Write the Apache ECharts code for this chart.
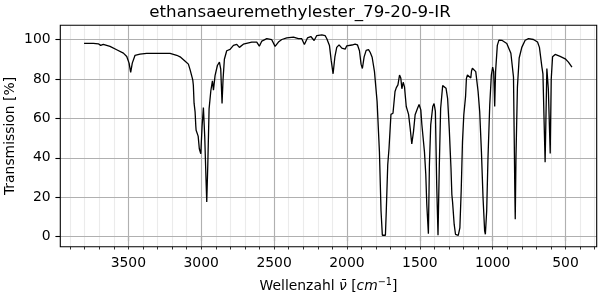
<!DOCTYPE html>
<html>
<head>
<meta charset="utf-8">
<script src="https://cdn.jsdelivr.net/npm/echarts@6/dist/echarts.min.js"></script>
<style>html,body{margin:0;padding:0;background:#fff}#c{width:600px;height:300px}</style>
</head>
<body>
<div id="c"></div>
<script>
// Wavenumbers (cm^-1) and transmission (%)
const wavenumbers = [3804,3740,3706,3690,3672,3626,3580,3534,3511,3495,3484,3473,3454,3420,3374,3282,3214,3168,3145,3133,3110,3088,3076,3065,3058,3054,3049,3042,3037,3035,3028,3021,3013,3003,2994,2985,2976,2967,2962,2955,2946,2934,2923,2916,2905,2889,2875,2866,2857,2850,2841,2825,2802,2779,2756,2738,2730,2711,2653,2619,2601,2584,2550,2516,2493,2470,2447,2413,2367,2333,2310,2292,2271,2248,2225,2207,2172,2150,2138,2120,2108,2095,2083,2070,2054,2035,2024,2012,2001,1966,1944,1928,1914,1903,1894,1882,1868,1852,1840,1827,1811,1793,1777,1766,1757,1736,1730,1720,1711,1698,1684,1670,1661,1650,1639,1630,1623,1614,1605,1593,1577,1566,1555,1543,1532,1516,1505,1493,1486,1477,1468,1459,1452,1441,1434,1425,1411,1402,1393,1384,1375,1366,1357,1343,1332,1320,1309,1298,1286,1280,1277,1275,1264,1255,1236,1225,1216,1207,1198,1186,1180,1173,1160,1150,1145,1139,1127,1116,1100,1089,1077,1066,1055,1050,1041,1032,1020,1009,1000,993,986,980,968,957,937,903,875,857,852,848,845,840,830,818,800,777,754,720,692,679,662,655,640,628,618,605,598,589,571,537,502,480,456];
const transmission = [98,98,97.8,97,97.5,96.5,94.8,93.1,91.4,88,83.3,88,92,92.6,93,93,93,92,91.2,90.4,89,87.5,84.6,83.6,79.5,76.8,67.7,63.3,56,54,54.8,51,44.6,42,56,65.5,51,29,17.6,36,64.8,74,79,74.3,81.7,86.8,88.5,85,67.5,80,90,94.3,95,97,97.5,96,95.3,97.6,98.7,98.7,96.6,99.2,100.4,99.9,96.5,98.7,100,100.8,101.2,100.4,100.4,97.5,100.8,101.5,99.5,102,102.3,102,100.4,97,89.4,82.6,91,96,97.3,95.6,96.3,95.1,96.8,97.2,97.7,97.3,94.3,87.5,85.3,91.2,94.5,94.9,93.4,91,83.7,68.5,43,13,0.7,0.7,13,36.5,45,62,62.6,73.6,75.6,77,82,80.3,75,78.3,76,66,62,55,47,53.4,61.8,65,67,64.3,57,56.7,43,31.8,16.3,1.5,36.5,56.7,66,67.5,63.5,26.4,0.7,36.5,65,76.6,77,75.3,70,55,34.8,21.4,21,17.5,6.2,1.2,0.7,4.5,23,48.3,61.8,71,80.3,82,81.5,80.5,84,85.4,85.7,83.7,73.6,63.5,43,19.7,2.9,1.2,13,40,66.8,82,86,83.7,66,83.7,97,99.7,99.6,98,93,81,50,24,8.8,40,76,90.6,96,99.6,100.4,100,98.7,96,86,82.6,37.7,85.3,75,42.2,80,91.2,92.4,91.4,90.2,88.5,86];

const xMajorTicks = [500,1000,1500,2000,2500,3000,3500];
const xMinorTicks = [300,400,500,600,700,800,900,1000,1100,1200,1300,1400,1500,1600,1700,1800,1900,2000,2100,2200,2300,2400,2500,2600,2700,2800,2900,3000,3100,3200,3300,3400,3500,3600,3700,3800,3900];
const yTicks = [0,20,40,60,80,100];

const X_MIN = 286, X_MAX = 3967, Y_MIN = -5.1, Y_MAX = 107.2;
const FONT = 'DejaVu Sans';

const spectrum = wavenumbers.map((w, i) => [w, transmission[i]]);

const chart = echarts.init(document.getElementById('c'), null, {renderer: 'canvas'});
chart.setOption({
  animation: false,
  backgroundColor: '#fff',
  title: {
    text: 'ethansaeuremethylester_79-20-9-IR',
    left: 'center',
    top: 0,
    padding: [4, 0, 0, 57],
    textStyle: {fontFamily: FONT, fontSize: 16.7, fontWeight: 'normal', color: '#000'}
  },
  grid: {left: 60.3, right: 3.3, top: 25.3, bottom: 53.3, show: true, borderColor: '#000', borderWidth: 1.1, backgroundColor: 'transparent', z: 20, containLabel: false, outerBoundsMode: 'none'},
  xAxis: [{
    type: 'value', min: X_MIN, max: X_MAX, inverse: true, position: 'bottom',
    axisLine: {show: false},
    splitLine: {show: false},
    axisTick: {show: true, length: 4.9, customValues: xMajorTicks, lineStyle: {color: '#000', width: 1.1}},
    axisLabel: {show: true, margin: 9.7, customValues: xMajorTicks, formatter: v => String(v), fontFamily: FONT, fontSize: 13.9, color: '#000'},
    name: '{a|Wellenzahl }{i|ν̄}{a| [}{i|cm}{s|−1}{a|]}',
    nameLocation: 'middle', nameGap: 31, nameMoveOverlap: false,
    nameTextStyle: {
      fontFamily: FONT, fontSize: 13.9, color: '#000',
      rich: {
        a: {fontFamily: FONT, fontSize: 13.9, color: '#000'},
        i: {fontFamily: FONT, fontSize: 13.9, fontStyle: 'italic', color: '#000'},
        s: {fontFamily: FONT, fontSize: 9.7, color: '#000', verticalAlign: 'top', padding: [0, 0, 8, 0]}
      }
    }
  }, {
    type: 'value', min: X_MIN, max: X_MAX, inverse: true, position: 'bottom', offset: 0,
    axisLine: {show: false}, splitLine: {show: false}, axisLabel: {show: false},
    axisTick: {show: true, length: 2.8, customValues: xMinorTicks, lineStyle: {color: '#000', width: 0.8}}
  }],
  yAxis: {
    type: 'value', min: Y_MIN, max: Y_MAX,
    axisLine: {show: false},
    splitLine: {show: false},
    axisTick: {show: true, length: 4.9, customValues: yTicks, lineStyle: {color: '#000', width: 1.1}},
    axisLabel: {show: true, margin: 9.7, customValues: yTicks, formatter: v => String(v), fontFamily: FONT, fontSize: 13.9, color: '#000'},
    name: 'Transmission [%]', nameLocation: 'middle', nameGap: 43, nameMoveOverlap: false,
    nameTextStyle: {fontFamily: FONT, fontSize: 13.9, color: '#000'}
  },
  series: [{
    type: 'line', data: [], z: 1, silent: true,
    markLine: {
      silent: true, symbol: 'none', label: {show: false}, z: 1, animation: false,
      lineStyle: {color: '#ebebeb', width: 1.1, type: 'solid'},
      data: xMinorTicks.map(v => ({xAxis: v}))
    }
  }, {
    type: 'line', data: [], z: 2, silent: true,
    markLine: {
      silent: true, symbol: 'none', label: {show: false}, z: 2, animation: false,
      lineStyle: {color: '#b0b0b0', width: 1.1, type: 'solid'},
      data: xMajorTicks.map(v => ({xAxis: v})).concat(yTicks.map(v => ({yAxis: v})))
    }
  }, {
    type: 'line', data: spectrum, z: 10, showSymbol: false, symbol: 'none', smooth: false,
    lineStyle: {color: '#000', width: 1.3}, silent: true
  }]
});
</script>
</body>
</html>
